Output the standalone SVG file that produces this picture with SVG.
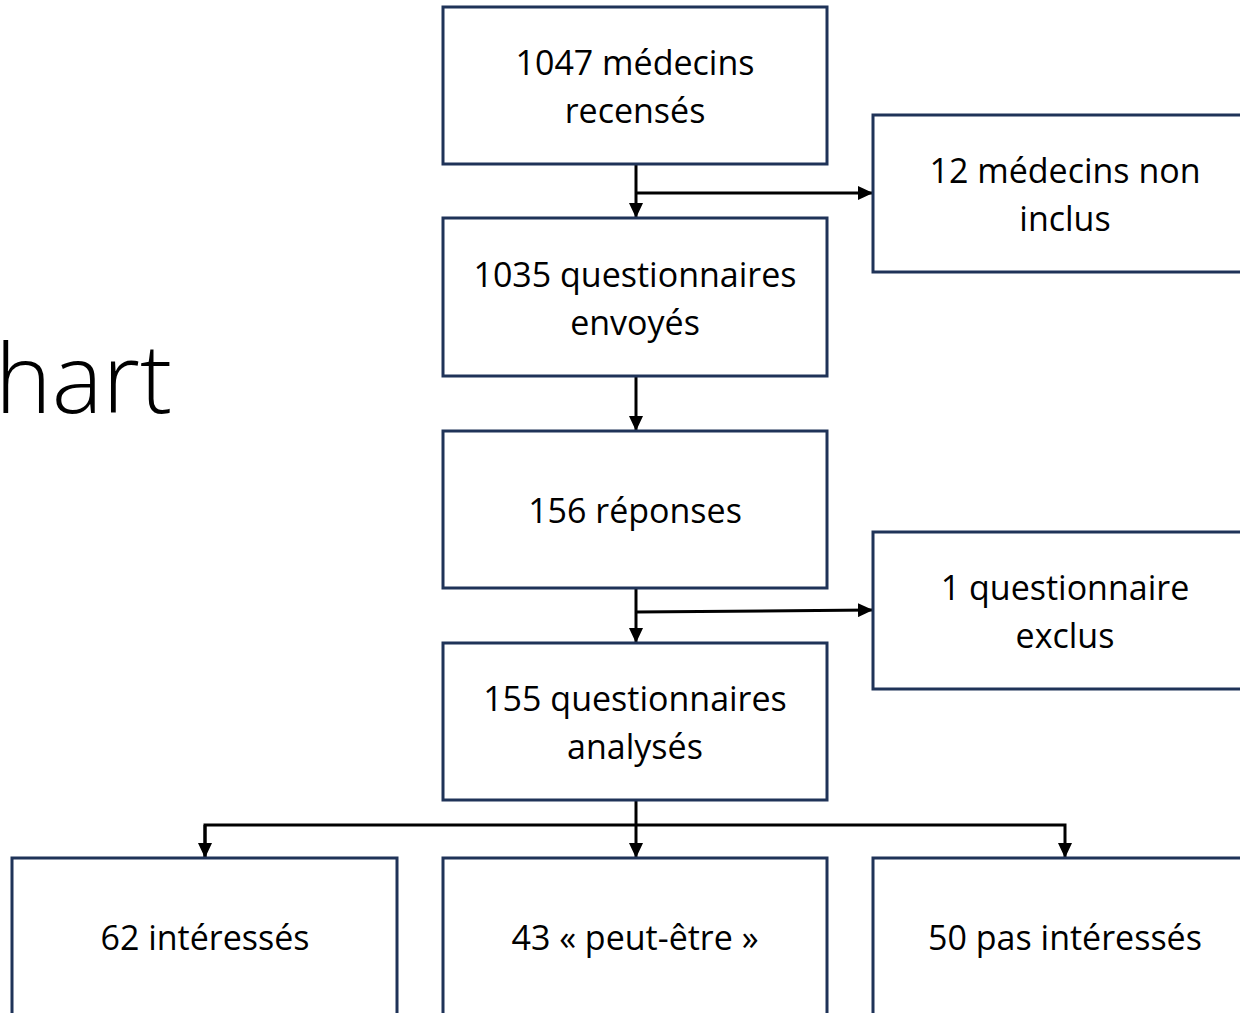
<svg xmlns="http://www.w3.org/2000/svg" width="1240" height="1013" viewBox="0 0 1240 1013">
<style>
.box{fill:#fff;stroke:#1f3358;stroke-width:3}
.t{font-family:"Open Sans","Liberation Sans",sans-serif;font-size:34px;fill:#000;text-anchor:middle}
.c{fill:none;stroke:#000;stroke-width:3}
</style>
<defs>
<marker id="ah" markerWidth="15" markerHeight="14" refX="14" refY="7" orient="auto" markerUnits="userSpaceOnUse">
<path d="M0,0 L15,7 L0,14 Z" fill="#000"/>
</marker>
</defs>
<rect width="1240" height="1013" fill="#fff"/>
<text x="172" y="413" font-family="'Open Sans','Liberation Sans',sans-serif" font-weight="300" font-size="96" text-anchor="end">hart</text>
<g id="connectors">
<path class="c" d="M636,164 V217" marker-end="url(#ah)"/>
<path class="c" d="M636,193 H872" marker-end="url(#ah)"/>
<path class="c" d="M636,376 V430" marker-end="url(#ah)"/>
<path class="c" d="M636,588 V642" marker-end="url(#ah)"/>
<path class="c" d="M636,612 L872,610" marker-end="url(#ah)"/>
<path class="c" d="M636,800 V857" marker-end="url(#ah)"/>
<path class="c" d="M205,857 V825 H1065 V857" marker-end="url(#ah)"/>
<path class="c" d="M205,825 V857" marker-end="url(#ah)"/>
</g>
<g id="n1"><rect class="box" x="443" y="7" width="384" height="157"/><text class="t" x="635" y="75">1047 médecins</text><text class="t" x="635" y="123">recensés</text></g>
<g id="n2"><rect class="box" x="873" y="115" width="384" height="157"/><text class="t" x="1065" y="183">12 médecins non</text><text class="t" x="1065" y="231">inclus</text></g>
<g id="n3"><rect class="box" x="443" y="218" width="384" height="158"/><text class="t" x="635" y="287">1035 questionnaires</text><text class="t" x="635" y="335">envoyés</text></g>
<g id="n4"><rect class="box" x="443" y="431" width="384" height="157"/><text class="t" x="635" y="523">156 réponses</text></g>
<g id="n5"><rect class="box" x="873" y="532" width="384" height="157"/><text class="t" x="1065" y="600">1 questionnaire</text><text class="t" x="1065" y="648">exclus</text></g>
<g id="n6"><rect class="box" x="443" y="643" width="384" height="157"/><text class="t" x="635" y="711">155 questionnaires</text><text class="t" x="635" y="759">analysés</text></g>
<g id="n7"><rect class="box" x="12" y="858" width="385" height="160"/><text class="t" x="205" y="950">62 intéressés</text></g>
<g id="n8"><rect class="box" x="443" y="858" width="384" height="160"/><text class="t" x="635" y="950">43 « peut-être »</text></g>
<g id="n9"><rect class="box" x="873" y="858" width="384" height="160"/><text class="t" x="1065" y="950">50 pas intéressés</text></g>
</svg>
